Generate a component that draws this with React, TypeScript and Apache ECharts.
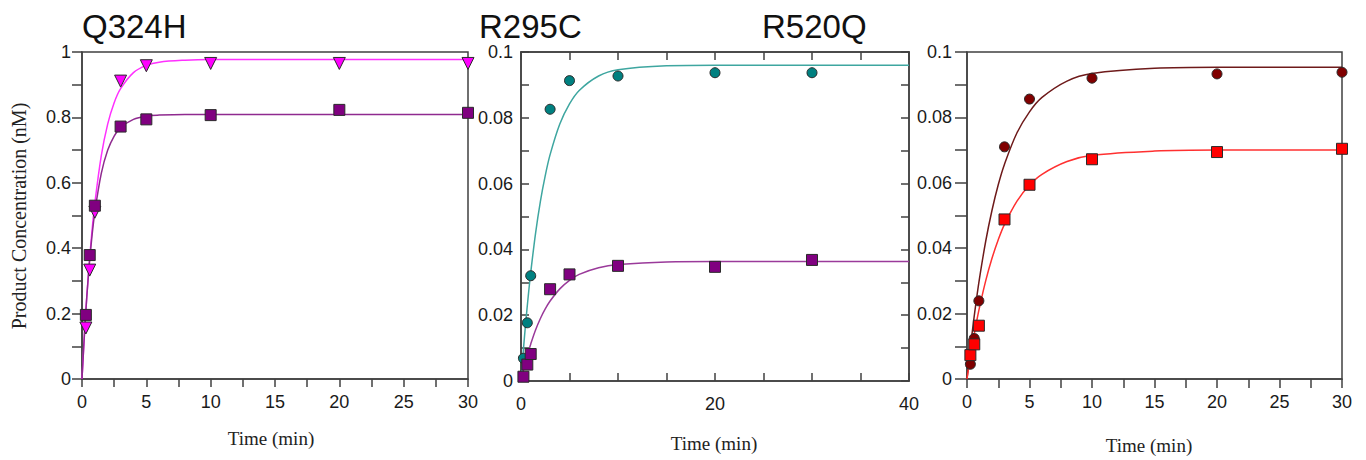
import React, { useEffect, useRef } from "react";
import * as echarts from "echarts";

// ---- Q324H ----
const timesQ324H = [0.3, 0.6, 1, 3, 5, 10, 20, 30];
const q324hTriangle = [0.156, 0.333, 0.51, 0.911, 0.958, 0.965, 0.965, 0.965];
const q324hSquare = [0.196, 0.379, 0.53, 0.772, 0.794, 0.807, 0.823, 0.814];
const fitTimesQ324H = [0, 0.25, 0.5, 0.75, 1, 1.5, 2, 2.5, 3, 4, 5, 6, 8, 10, 15, 20, 30];
const q324hTriangleFit = [0, 0.177, 0.322, 0.441, 0.538, 0.683, 0.78, 0.845, 0.888, 0.937, 0.959, 0.969, 0.975, 0.977, 0.977, 0.977, 0.977];
const q324hSquareFit = [0, 0.179, 0.318, 0.427, 0.511, 0.629, 0.7, 0.743, 0.769, 0.794, 0.804, 0.807, 0.809, 0.809, 0.809, 0.809, 0.809];

// ---- R295C ----
const timesR295C = [0.25, 0.65, 1, 3, 5, 10, 20, 30];
const r295cCircle = [0.0069, 0.0177, 0.032, 0.0826, 0.0913, 0.0927, 0.0937, 0.0937];
const r295cSquare = [0.0013, 0.005, 0.0082, 0.0279, 0.0324, 0.035, 0.0347, 0.0368];
const fitTimesR295C = [0, 0.25, 0.5, 0.75, 1, 1.5, 2, 2.5, 3, 4, 5, 6, 8, 10, 15, 20, 40];
const r295cCircleFit = [0, 0.0096, 0.0182, 0.0259, 0.0329, 0.0449, 0.0546, 0.0624, 0.0688, 0.0781, 0.0842, 0.0883, 0.0927, 0.0946, 0.0958, 0.096, 0.096];
const r295cSquareFit = [0, 0.0032, 0.0061, 0.0088, 0.0112, 0.0155, 0.019, 0.0219, 0.0243, 0.028, 0.0306, 0.0324, 0.0344, 0.0354, 0.0362, 0.0363, 0.0363];

// ---- R520Q ----
const timesR520Q = [0.27, 0.58, 0.95, 3, 5, 10, 20, 30];
const r520qCircle = [0.0045, 0.0124, 0.0239, 0.071, 0.0856, 0.092, 0.0933, 0.0938];
const r520qSquare = [0.0073, 0.0106, 0.0163, 0.0488, 0.0594, 0.0672, 0.0694, 0.0704];
const fitTimesR520Q = [0, 0.25, 0.5, 0.75, 1, 1.5, 2, 2.5, 3, 4, 5, 6, 8, 10, 15, 20, 30];
const r520qCircleFit = [0, 0.0089, 0.0169, 0.0242, 0.0308, 0.0422, 0.0516, 0.0594, 0.0657, 0.0753, 0.0817, 0.0861, 0.0911, 0.0934, 0.095, 0.0953, 0.0953];
const r520qSquareFit = [0, 0.0063, 0.012, 0.0172, 0.0219, 0.0301, 0.0369, 0.0426, 0.0473, 0.0544, 0.0593, 0.0626, 0.0665, 0.0684, 0.0697, 0.07, 0.07];

const titles = ["Q324H", "R295C", "R520Q"];
const yAxisTitle = "Product Concentration (nM)";
const xAxisTitle = "Time (min)";

const zip = (xs: number[], ys: number[]) => xs.map((x, i) => [x, ys[i]]);

const AXIS = "#404040";
const LABEL = "#1a1a1a";
const SANS = "'Liberation Sans', Arial, sans-serif";
const SERIF = "'Liberation Serif', 'Times New Roman', serif";

function axisBase(extra: any) {
  return {
    splitLine: { show: false },
    minorSplitLine: { show: false },
    axisLine: { show: true, onZero: false, lineStyle: { color: AXIS, width: 1.5 } },
    axisTick: { show: true, lineStyle: { color: AXIS, width: 1.5 } },
    minorTick: { show: true, lineStyle: { color: AXIS, width: 1.5 } },
    axisLabel: { color: LABEL, fontSize: 18, fontFamily: SANS },
    ...extra,
  };
}

function scatter(name: string, xi: number, data: number[][], symbol: string, size: number, color: string, rotate = 0) {
  return {
    name,
    type: "scatter",
    xAxisIndex: xi,
    yAxisIndex: xi,
    data,
    symbol,
    symbolSize: size,
    symbolRotate: rotate,
    clip: false,
    z: 5,
    itemStyle: { color, borderColor: "#2a2a2a", borderWidth: 1, opacity: 1 },
  };
}

function fit(name: string, xi: number, data: number[][], color: string) {
  return {
    name,
    type: "line",
    xAxisIndex: xi,
    yAxisIndex: xi,
    data,
    smooth: 0.35,
    showSymbol: false,
    symbol: "none",
    z: 3,
    lineStyle: { color, width: 1.5 },
  };
}

export default function App() {
  const ref = useRef<HTMLDivElement>(null);
  useEffect(() => {
    if (!ref.current) return;
    const chart = echarts.init(ref.current, null, { renderer: "svg" });
    const option: any = {
      animation: false,
      backgroundColor: "#ffffff",
      grid: [
        { left: 82, top: 52, width: 386, height: 327, show: true, borderColor: AXIS, borderWidth: 1.5, backgroundColor: "transparent" },
        { left: 521, top: 52, width: 388, height: 329, show: true, borderColor: AXIS, borderWidth: 1.5, backgroundColor: "transparent" },
        { left: 967, top: 52, width: 375, height: 327, show: true, borderColor: AXIS, borderWidth: 1.5, backgroundColor: "transparent" },
      ],
      xAxis: [
        axisBase({
          type: "value", gridIndex: 0, min: 0, max: 30, interval: 5,
          axisTick: { show: true, length: 8, lineStyle: { color: AXIS, width: 1.5 } },
          minorTick: { show: true, splitNumber: 2, length: 8, lineStyle: { color: AXIS, width: 1.5 } },
          axisLabel: { color: LABEL, fontSize: 18, fontFamily: SANS, margin: 14 },
        }),
        axisBase({
          type: "value", gridIndex: 1, min: 0, max: 40, interval: 20,
          axisTick: { show: true, inside: true, length: 8, lineStyle: { color: AXIS, width: 1.5 } },
          minorTick: { show: true, splitNumber: 4, length: 8, lineStyle: { color: AXIS, width: 1.5 } },
          axisLabel: { color: LABEL, fontSize: 18, fontFamily: SANS, margin: 14 },
        }),
        axisBase({
          type: "value", gridIndex: 2, min: 0, max: 30, interval: 5,
          axisTick: { show: true, length: 9, lineStyle: { color: AXIS, width: 1.5 } },
          minorTick: { show: true, splitNumber: 2, length: 9, lineStyle: { color: AXIS, width: 1.5 } },
          axisLabel: { color: LABEL, fontSize: 18, fontFamily: SANS, margin: 14 },
        }),
        axisBase({
          type: "value", gridIndex: 1, position: "top", min: 0, max: 40, interval: 20,
          axisTick: { show: true, inside: true, length: 8, lineStyle: { color: AXIS, width: 1.5 } },
          minorTick: { show: true, splitNumber: 4, length: 8, lineStyle: { color: AXIS, width: 1.5 } },
          axisLabel: { show: false },
        }),
      ],
      yAxis: [
        axisBase({
          type: "value", gridIndex: 0, min: 0, max: 1, interval: 0.2,
          axisTick: { show: true, length: 10, lineStyle: { color: AXIS, width: 1.5 } },
          minorTick: { show: true, splitNumber: 2, length: 10, lineStyle: { color: AXIS, width: 1.5 } },
          axisLabel: { color: LABEL, fontSize: 18, fontFamily: SANS, margin: 11 },
        }),
        axisBase({
          type: "value", gridIndex: 1, min: 0, max: 0.1, interval: 0.02,
          axisTick: { show: true, inside: true, length: 8, lineStyle: { color: AXIS, width: 1.5 } },
          minorTick: { show: true, splitNumber: 2, length: 8, lineStyle: { color: AXIS, width: 1.5 } },
          axisLabel: { color: LABEL, fontSize: 18, fontFamily: SANS, margin: 8 },
        }),
        axisBase({
          type: "value", gridIndex: 2, min: 0, max: 0.1, interval: 0.02,
          axisTick: { show: true, length: 12, lineStyle: { color: AXIS, width: 1.5 } },
          minorTick: { show: true, splitNumber: 2, length: 12, lineStyle: { color: AXIS, width: 1.5 } },
          axisLabel: { color: LABEL, fontSize: 18, fontFamily: SANS, margin: 15 },
        }),
        axisBase({
          type: "value", gridIndex: 1, position: "right", min: 0, max: 0.1, interval: 0.02,
          axisTick: { show: true, inside: true, length: 8, lineStyle: { color: AXIS, width: 1.5 } },
          minorTick: { show: true, splitNumber: 2, length: 8, lineStyle: { color: AXIS, width: 1.5 } },
          axisLabel: { show: false },
        }),
      ],
      series: [
        fit("Q324H fit 1", 0, zip(fitTimesQ324H, q324hTriangleFit), "#ff30ff"),
        fit("Q324H fit 2", 0, zip(fitTimesQ324H, q324hSquareFit), "#8f2a8f"),
        scatter("Q324H triangles", 0, zip(timesQ324H, q324hTriangle), "triangle", 12, "#ff00ff", 180),
        scatter("Q324H squares", 0, zip(timesQ324H, q324hSquare), "rect", 11, "#800080"),

        fit("R295C fit 1", 1, zip(fitTimesR295C, r295cCircleFit), "#3ea6a0"),
        fit("R295C fit 2", 1, zip(fitTimesR295C, r295cSquareFit), "#9a3a9a"),
        scatter("R295C circles", 1, zip(timesR295C, r295cCircle), "circle", 10, "#008080"),
        scatter("R295C squares", 1, zip(timesR295C, r295cSquare), "rect", 11, "#800080"),

        fit("R520Q fit 1", 2, zip(fitTimesR520Q, r520qCircleFit), "#6e1a1a"),
        fit("R520Q fit 2", 2, zip(fitTimesR520Q, r520qSquareFit), "#ff3030"),
        scatter("R520Q circles", 2, zip(timesR520Q, r520qCircle), "circle", 10, "#800000"),
        scatter("R520Q squares", 2, zip(timesR520Q, r520qSquare), "rect", 11, "#ff0000"),
      ],
      graphic: [
        { type: "text", x: 82, y: 26, style: { text: titles[0], fontSize: 33, fontFamily: SANS, fill: "#111", align: "left", verticalAlign: "middle" } },
        { type: "text", x: 479, y: 26, style: { text: titles[1], fontSize: 33, fontFamily: SANS, fill: "#111", align: "left", verticalAlign: "middle" } },
        { type: "text", x: 762, y: 26, style: { text: titles[2], fontSize: 33, fontFamily: SANS, fill: "#111", align: "left", verticalAlign: "middle" } },
        { type: "text", x: 19, y: 216, rotation: Math.PI / 2, style: { text: yAxisTitle, fontSize: 20, fontFamily: SERIF, fill: "#222", align: "center", verticalAlign: "middle" } },
        { type: "text", x: 271, y: 438, style: { text: xAxisTitle, fontSize: 19, fontFamily: SERIF, fill: "#222", align: "center", verticalAlign: "middle" } },
        { type: "text", x: 714, y: 443, style: { text: xAxisTitle, fontSize: 19, fontFamily: SERIF, fill: "#222", align: "center", verticalAlign: "middle" } },
        { type: "text", x: 1149, y: 445, style: { text: xAxisTitle, fontSize: 19, fontFamily: SERIF, fill: "#222", align: "center", verticalAlign: "middle" } },
      ],
    };
    chart.setOption(option);
    return () => chart.dispose();
  }, []);
  return (
    <div
      ref={ref}
      style={{ position: "fixed", left: 0, top: 0, width: 1366, height: 460, background: "#fff" }}
    />
  );
}
